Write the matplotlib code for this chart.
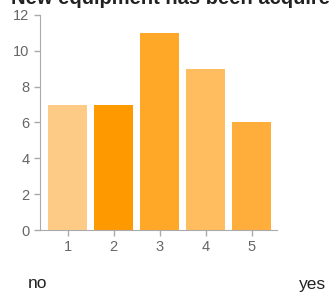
import matplotlib
matplotlib.use("Agg")
import matplotlib.pyplot as plt

plt.rcParams['font.family'] = ['Liberation Sans', 'DejaVu Sans']

title = "New equipment has been acquired"
categories = [1, 2, 3, 4, 5]
counts = [7, 7, 11, 9, 6]
colors = ['#fecb86', '#ff9900', '#ffa726', '#ffbd5f', '#ffad3b']

fig = plt.figure(figsize=(3.3, 2.95), dpi=100)
ax = fig.add_axes([0.1212, 0.2203, 0.7182, 0.7289])

ax.bar(categories, counts, width=0.85, color=colors)
ax.set_xlim(0.4, 5.55)
ax.set_ylim(0, 12)
ax.set_yticks(range(0, 13, 2))
ax.set_xticks(categories)

for side in ['top', 'right']:
    ax.spines[side].set_visible(False)
for side in ['left', 'bottom']:
    ax.spines[side].set_color('#aaaaaa')
ax.tick_params(colors='#aaaaaa', labelcolor='#666666', labelsize=10.5,
               length=4, width=1)

# title is clipped by the top edge in the original
fig.text(11 / 330, 1 - 4 / 295, title, fontsize=14.5, fontweight='bold',
         color='#222222', va='baseline', ha='left')
fig.text(28 / 330, 1 - 284 / 295, "no", fontsize=12.5, color='#222222',
         va='center', ha='left')
fig.text(326 / 330, 1 - 284 / 295, "yes", fontsize=12.5, color='#222222',
         va='center', ha='right')

fig.savefig("out.png", dpi=100)
